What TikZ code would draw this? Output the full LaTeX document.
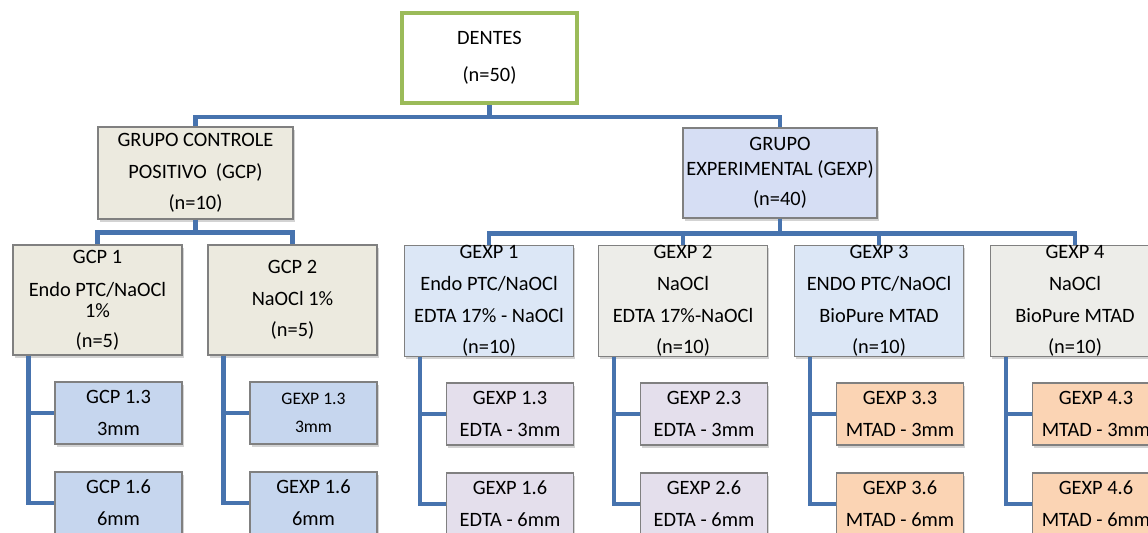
\documentclass[tikz,border=0pt]{standalone}
\usepackage{fontspec}
\setmainfont{Carlito}
\usetikzlibrary{shadows}

\definecolor{linkblue}{HTML}{4773AE}
\definecolor{dgreen}{HTML}{9BBB59}
\definecolor{cpfill}{HTML}{ECEADF}
\definecolor{expfill}{HTML}{D6DEF4}
\definecolor{blfill}{HTML}{DCE7F6}
\definecolor{gyfill}{HTML}{EDEDE9}
\definecolor{subblue}{HTML}{C6D6EE}
\definecolor{sublila}{HTML}{E4DFEC}
\definecolor{subpeach}{HTML}{FBD4B4}

\tikzstyle{dn} = [rectangle, minimum width=3.5cm, minimum height=1.8cm, inner sep=0pt, align=center, draw=dgreen, line width=2.3pt, fill=white]
\tikzstyle{gb} = [rectangle, minimum width=3.9cm, minimum height=1.84cm, inner sep=0pt, align=center, draw=black!50, line width=0.6pt, drop shadow={shadow xshift=1pt, shadow yshift=-1.5pt, opacity=0.35}]
\tikzstyle{cb} = [rectangle, minimum width=3.38cm, minimum height=2.2cm, inner sep=0pt, align=center, draw=black!50, line width=0.6pt, drop shadow={shadow xshift=1pt, shadow yshift=-1.5pt, opacity=0.35}]
\tikzstyle{sb} = [rectangle, minimum width=2.54cm, minimum height=1.24cm, inner sep=0pt, align=center, draw=black!50, line width=0.6pt, drop shadow={shadow xshift=1pt, shadow yshift=-1.5pt, opacity=0.35}]
\tikzstyle{link} = [draw=linkblue, line width=2.8pt]

\begin{document}
\begin{tikzpicture}[node distance=2.3cm, font=\fontsize{11.6}{18}\selectfont]
        \useasboundingbox (-9.79,1.16) rectangle (13.17,-9.5);
        \node[dn] (dentes) {DENTES\\[3pt](n=50)};
        \node[gb, fill=cpfill] (gcp) [below of=dentes, xshift=-5.88cm] {GRUPO CONTROLE\\POSITIVO~~(GCP)\\(n=10)};
        \node[gb, fill=expfill, minimum width=3.88cm, minimum height=1.8cm] (gexp) [below of=dentes, xshift=5.81cm] {GRUPO\\[-3.8pt]EXPERIMENTAL (GEXP)\\[-1pt](n=40)};
        \draw[link] (dentes.south) -- ++(0,-0.24) -| (gcp.north);
        \draw[link] (dentes.south) -- ++(0,-0.24) -| (gexp.north);
        % controle
        \node[cb, fill=cpfill] (gcp1) [below of=gcp, node distance=2.54cm, xshift=-1.96cm] {GCP 1\\[1pt]Endo PTC/NaOCl\\[-6pt]1\%\\[-1pt](n=5)};
        \node[cb, fill=cpfill] (gcp2) [below of=gcp, node distance=2.54cm, xshift=1.94cm] {GCP 2\\NaOCl 1\%\\(n=5)};
        \draw[link] (gcp.south) -- ++(0,-0.26) -| (gcp1.north);
        \draw[link] (gcp.south) -- ++(0,-0.26) -| (gcp2.north);
        % experimental
        \node[cb, fill=blfill] (gexp1) [below of=gexp, node distance=2.56cm, xshift=-5.82cm] {GEXP 1\\Endo PTC/NaOCl\\EDTA 17\% - NaOCl\\(n=10)};
        \node[cb, fill=gyfill] (gexp2) [below of=gexp, node distance=2.56cm, xshift=-1.94cm] {GEXP 2\\NaOCl\\EDTA 17\%-NaOCl\\(n=10)};
        \node[cb, fill=blfill] (gexp3) [below of=gexp, node distance=2.56cm, xshift=1.98cm] {GEXP 3\\ENDO PTC/NaOCl\\BioPure MTAD\\(n=10)};
        \node[cb, fill=gyfill] (gexp4) [below of=gexp, node distance=2.56cm, xshift=5.9cm] {GEXP 4\\NaOCl\\BioPure MTAD\\(n=10)};
        \draw[link] (gexp.south) -- ++(0,-0.3) -| (gexp1.north);
        \draw[link] (gexp.south) -- ++(0,-0.3) -| (gexp2.north);
        \draw[link] (gexp.south) -- ++(0,-0.3) -| (gexp3.north);
        \draw[link] (gexp.south) -- ++(0,-0.3) -| (gexp4.north);
        % 3mm / 6mm
        \node[sb, fill=subblue] (gcp13) [below of=gcp1, node distance=2.26cm, xshift=0.42cm] {GCP 1.3\\3mm};
        \node[sb, fill=subblue] (gcp16) [below of=gcp13, node distance=1.8cm] {GCP 1.6\\6mm};
        \node[sb, fill=subblue, font=\fontsize{10}{16}\selectfont] (gcp23) [below of=gcp2, node distance=2.26cm, xshift=0.42cm] {GEXP 1.3\\3mm};
        \node[sb, fill=subblue] (gcp26) [below of=gcp23, node distance=1.8cm] {GEXP 1.6\\6mm};
        \node[sb, fill=sublila] (gexp13) [below of=gexp1, node distance=2.26cm, xshift=0.42cm] {GEXP 1.3\\EDTA - 3mm};
        \node[sb, fill=sublila] (gexp16) [below of=gexp13, node distance=1.8cm] {GEXP 1.6\\EDTA - 6mm};
        \node[sb, fill=sublila] (gexp23) [below of=gexp2, node distance=2.26cm, xshift=0.42cm] {GEXP 2.3\\EDTA - 3mm};
        \node[sb, fill=sublila] (gexp26) [below of=gexp23, node distance=1.8cm] {GEXP 2.6\\EDTA - 6mm};
        \node[sb, fill=subpeach] (gexp33) [below of=gexp3, node distance=2.26cm, xshift=0.42cm] {GEXP 3.3\\MTAD - 3mm};
        \node[sb, fill=subpeach] (gexp36) [below of=gexp33, node distance=1.8cm] {GEXP 3.6\\MTAD - 6mm};
        \node[sb, fill=subpeach] (gexp43) [below of=gexp4, node distance=2.26cm, xshift=0.42cm] {GEXP 4.3\\MTAD - 3mm};
        \node[sb, fill=subpeach] (gexp46) [below of=gexp43, node distance=1.8cm] {GEXP 4.6\\MTAD - 6mm};
        \draw[link] ([xshift=0.32cm]gcp1.south west) |- (gcp13.west);
        \draw[link] ([xshift=0.32cm]gcp1.south west) |- (gcp16.west);
        \draw[link] ([xshift=0.32cm]gcp2.south west) |- (gcp23.west);
        \draw[link] ([xshift=0.32cm]gcp2.south west) |- (gcp26.west);
        \draw[link] ([xshift=0.32cm]gexp1.south west) |- (gexp13.west);
        \draw[link] ([xshift=0.32cm]gexp1.south west) |- (gexp16.west);
        \draw[link] ([xshift=0.32cm]gexp2.south west) |- (gexp23.west);
        \draw[link] ([xshift=0.32cm]gexp2.south west) |- (gexp26.west);
        \draw[link] ([xshift=0.32cm]gexp3.south west) |- (gexp33.west);
        \draw[link] ([xshift=0.32cm]gexp3.south west) |- (gexp36.west);
        \draw[link] ([xshift=0.32cm]gexp4.south west) |- (gexp43.west);
        \draw[link] ([xshift=0.32cm]gexp4.south west) |- (gexp46.west);
\end{tikzpicture}
\end{document}
